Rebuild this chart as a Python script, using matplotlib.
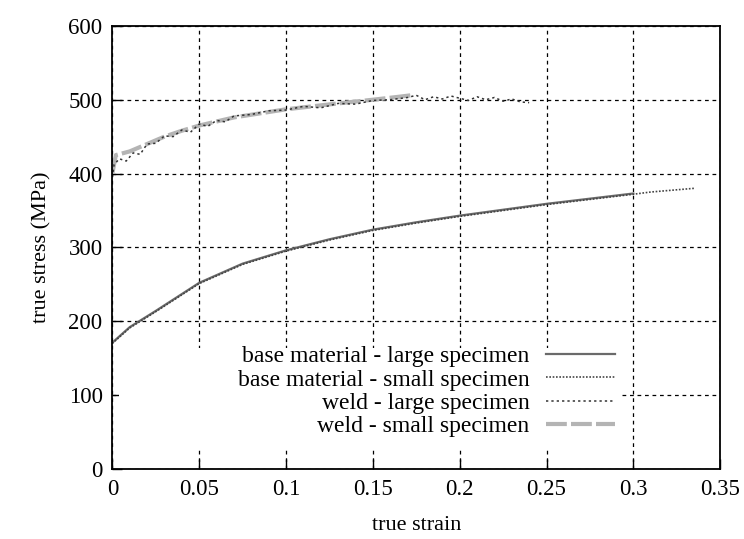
import matplotlib
matplotlib.use("Agg")
import matplotlib.pyplot as plt
from matplotlib.patches import Rectangle

plt.rcParams["font.family"] = ["Liberation Serif", "DejaVu Serif"]

# true strain / true stress (MPa)
base_large_strain = [0, 0.01, 0.025, 0.05, 0.075, 0.1, 0.125, 0.15, 0.175,
                     0.2, 0.225, 0.25, 0.275, 0.3]
base_large_stress = [171, 192, 214, 252, 278, 296, 311, 324, 334,
                     343, 351, 359, 366, 373]

base_small_strain = [0, 0.01, 0.025, 0.05, 0.075, 0.1, 0.125, 0.15, 0.175,
                     0.2, 0.225, 0.25, 0.275, 0.3, 0.31, 0.32, 0.335]
base_small_stress = [170, 191, 213, 251, 277, 295, 310, 323, 333,
                     342, 350, 358, 365, 372, 375, 377, 380]

weld_large_strain = [0, 0.001, 0.004, 0.008, 0.012, 0.016, 0.02, 0.025, 0.03,
                     0.035, 0.04, 0.045, 0.05, 0.055, 0.06, 0.065, 0.07, 0.08,
                     0.09, 0.1, 0.11, 0.12, 0.13, 0.14, 0.15, 0.16, 0.17,
                     0.175, 0.18, 0.185, 0.19, 0.195, 0.2, 0.205, 0.21, 0.215,
                     0.22, 0.225, 0.23, 0.235, 0.24]
weld_large_stress = [395, 412, 420, 417, 428, 426, 440, 441, 451,
                     450, 459, 456, 467, 464, 472, 470, 478, 480,
                     485, 486, 491, 489, 495, 494, 499, 500, 503,
                     506, 500, 504, 501, 505, 502, 499, 504, 500,
                     503, 498, 501, 497, 496]

weld_small_strain = [0, 0.002, 0.01, 0.02, 0.03, 0.04, 0.05, 0.07, 0.1,
                     0.13, 0.15, 0.165, 0.172]
weld_small_stress = [400, 425, 430, 440, 450, 458, 465, 476, 487,
                     495, 500, 504, 506]

x_ticks = [0, 0.05, 0.1, 0.15, 0.2, 0.25, 0.3, 0.35]
x_tick_labels = ["0", "0.05", "0.1", "0.15", "0.2", "0.25", "0.3", "0.35"]
y_ticks = [0, 100, 200, 300, 400, 500, 600]

fig = plt.figure(figsize=(7.44, 5.39), dpi=100)
ax = fig.add_axes([0.151, 0.13, 0.817, 0.822])

ax.set_xlim(0, 0.35)
ax.set_ylim(0, 600)
ax.set_xticks(x_ticks)
ax.set_xticklabels(x_tick_labels)
ax.set_yticks(y_ticks)
ax.tick_params(direction="in", length=7, width=1.0, labelsize=16.5, pad=7,
               top=False, right=False)

ax.grid(True, color="black", linestyle=(0, (3, 3)), linewidth=0.9, zorder=0)
ax.set_axisbelow(True)

# opaque key area: hides the grid behind the legend
ax.add_patch(Rectangle((0.004, 30), 0.289, 134, facecolor="white",
                       edgecolor="none", zorder=1))

ax.plot(base_large_strain, base_large_stress, color="#6a6a6a", lw=1.6,
        label="base material - large specimen", zorder=3)
ax.plot(base_small_strain, base_small_stress, color="#444444", lw=1.2,
        linestyle=(0, (1, 1)), label="base material - small specimen", zorder=4)
ax.plot(weld_small_strain, weld_small_stress, color="#b4b4b4", lw=3.0,
        linestyle=(0, (5, 1)), label="weld - small specimen", zorder=3)
ax.plot(weld_large_strain, weld_large_stress, color="#333333", lw=1.1,
        linestyle=(0, (1.5, 2)), label="weld - large specimen", zorder=4)

for side in ax.spines.values():
    side.set_linewidth(1.3)
    side.set_zorder(5)

handles, labels = ax.get_legend_handles_labels()
order = [0, 1, 3, 2]
leg = ax.legend([handles[i] for i in order], [labels[i] for i in order],
                loc="upper right", bbox_to_anchor=(0.296, 183),
                bbox_transform=ax.transData, frameon=False, markerfirst=False,
                fontsize=17, handlelength=2.9, handletextpad=0.7,
                labelspacing=0.08, borderpad=0.0)
leg.set_zorder(6)

ax.set_xlabel("true strain", fontsize=16, labelpad=12)
ax.set_ylabel("true stress (MPa)", fontsize=16, labelpad=12)

fig.savefig("out.png", dpi=100)
